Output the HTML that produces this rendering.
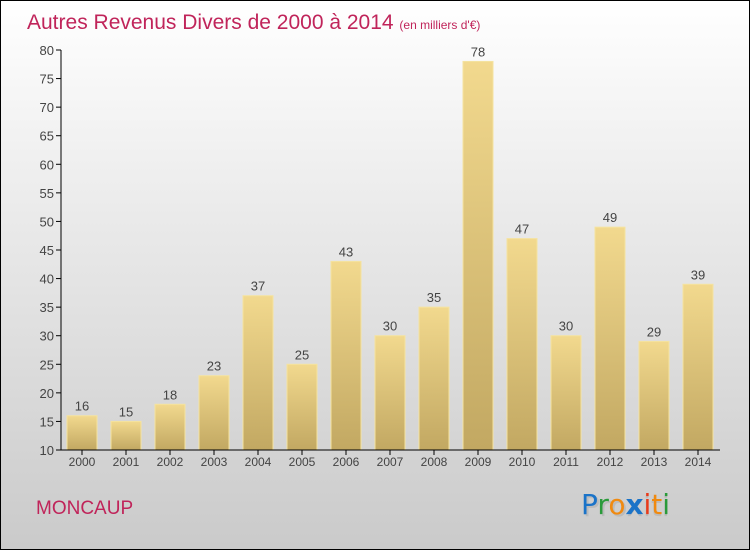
<!DOCTYPE html>
<html><head><meta charset="utf-8"><style>
body{margin:0}
#c{width:750px;height:550px;position:relative;overflow:hidden}
</style></head><body>
<div id="c">
<svg width="750" height="550" xmlns="http://www.w3.org/2000/svg" font-family="Liberation Sans, sans-serif">
<defs>
<linearGradient id="bg" x1="0" y1="0" x2="0" y2="1"><stop offset="0" stop-color="#ffffff"/><stop offset="1" stop-color="#cacaca"/></linearGradient>
<linearGradient id="bar" x1="0" y1="0" x2="0" y2="1"><stop offset="0" stop-color="#f2d98e"/><stop offset="1" stop-color="#c2a862"/></linearGradient>
</defs>
<rect x="0.5" y="0.5" width="749" height="549" fill="url(#bg)" stroke="#000"/>
<text x="27" y="29" font-size="21" fill="#c0245a">Autres Revenus Divers de 2000 à 2014 <tspan font-size="12">(en milliers d'€)</tspan></text>
<g id="plot"></g>
<text x="36" y="514" font-size="19" fill="#c0245a">MONCAUP</text>
<g font-size="28" font-family="DejaVu Sans, sans-serif">
<text x="583" y="516" fill="#aaa" opacity="0.5">Proxiti</text>
<text x="581" y="514"><tspan fill="#1a73c8">P</tspan><tspan fill="#2a9a3a">r</tspan><tspan fill="#f08a10">o</tspan><tspan fill="#1a73c8" font-weight="bold">x</tspan><tspan fill="#e83a1a">i</tspan><tspan fill="#f08a10">t</tspan><tspan fill="#2a9a3a">i</tspan></text>
</g>
</svg>
</div>
<script>
const years=["2000","2001","2002","2003","2004","2005","2006","2007","2008","2009","2010","2011","2012","2013","2014"];
const values=[16,15,18,23,37,25,43,30,35,78,47,30,49,29,39];
const yTicks=[10,15,20,25,30,35,40,45,50,55,60,65,70,75,80];
const NS="http://www.w3.org/2000/svg";
const g=document.getElementById('plot');
const y=v=>450-(v-10)*400/70;
const x=i=>82+i*44;
function mk(t,a,p){const e=document.createElementNS(NS,t);for(const k in a)e.setAttribute(k,a[k]);(p||g).appendChild(e);return e;}
yTicks.forEach(t=>{
 const l=mk('line',{x1:56,x2:61,y1:y(t),y2:y(t),stroke:'#000'});
 
 
 const tx=mk('text',{x:54,y:y(t)+5,'font-size':13,fill:'#444','text-anchor':'end'});tx.textContent=t;
 
 
});
values.forEach((v,i)=>{
 const r=mk('rect',{x:x(i)-15,y:y(v),width:30,height:450-y(v),fill:'url(#bar)',stroke:'#f5e3a0','stroke-width':1});
 
 
 const t=mk('text',{x:x(i),y:y(v)-5,'font-size':13,fill:'#444','text-anchor':'middle'});t.textContent=v;
 
 
 const tk=mk('line',{x1:x(i),x2:x(i),y1:450,y2:455,stroke:'#000'});
 
 
 const xl=mk('text',{x:x(i),y:466,'font-size':12,fill:'#444','text-anchor':'middle'});xl.textContent=years[i];
 
 
});
const ya=mk('line',{x1:61,x2:61,y1:y(80),y2:450,stroke:'#000'});


const xa=mk('line',{x1:61,x2:720,y1:450,y2:450,stroke:'#000'});


</script>
</body></html>
